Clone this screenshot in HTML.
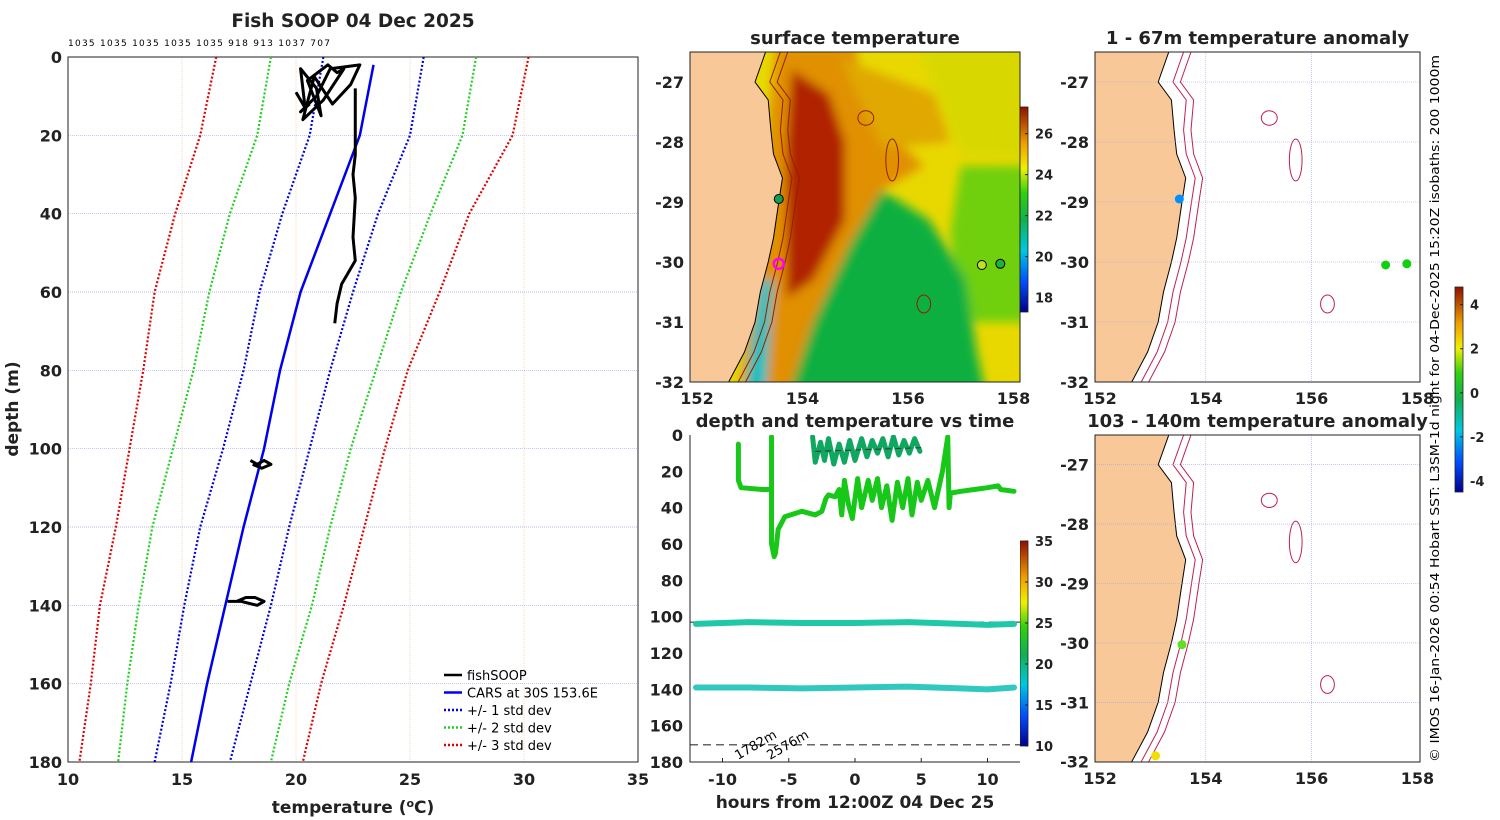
<!DOCTYPE html>
<html><head><meta charset="utf-8"><style>
html,body{margin:0;padding:0;background:#fff}
svg{display:block;font-family:"DejaVu Sans","Liberation Sans",sans-serif}
.t{font-weight:bold;fill:#222}
</style></head><body>
<svg id="fig" width="1500" height="820" viewBox="0 0 1500 820" xmlns="http://www.w3.org/2000/svg">
<defs>
<filter id="bl" x="-5%" y="-5%" width="110%" height="110%"><feGaussianBlur stdDeviation="5"/></filter>
<clipPath id="cm1"><rect x="690" y="52" width="330" height="330"/></clipPath>
<clipPath id="cm2"><rect x="1095" y="52" width="325" height="330"/></clipPath>
<clipPath id="cm3"><rect x="1095" y="435" width="325" height="327"/></clipPath>
<clipPath id="ct"><rect x="690" y="435" width="330" height="327"/></clipPath>
<linearGradient id="jet" x1="0" y1="1" x2="0" y2="0">
<stop offset="0" stop-color="#00008f"/><stop offset="0.15" stop-color="#0050ff"/><stop offset="0.3" stop-color="#00c8e0"/><stop offset="0.45" stop-color="#10b050"/><stop offset="0.58" stop-color="#30d010"/><stop offset="0.7" stop-color="#f0f000"/><stop offset="0.82" stop-color="#f0a000"/><stop offset="1" stop-color="#901000"/></linearGradient>
</defs>
<g id="g1"></g>
</svg>
<script>
// ---- profile panel data ----
const depths=[0,20,40,60,80,100,120,140,160,180];
const cars=[23.4,22.8,21.5,20.2,19.3,18.6,17.7,16.9,16.1,15.4];
const sd1lo=[21.2,20.6,19.4,18.4,17.7,16.8,15.8,15.1,14.5,13.8];
const sd1hi=[25.6,25.0,23.6,22.5,21.5,20.6,19.7,18.9,18.0,17.1];
const sd2lo=[18.9,18.3,17.1,16.2,15.5,14.6,13.7,13.1,12.6,12.2];
const sd2hi=[27.9,27.3,25.9,24.6,23.5,22.4,21.5,20.7,19.7,18.9];
const sd3lo=[16.5,15.8,14.7,13.8,13.3,12.7,12.1,11.4,11.0,10.5];
const sd3hi=[30.2,29.5,27.6,26.3,24.9,23.9,23.0,22.1,21.1,20.3];
const xTicks=[10,15,20,25,30,35];
const yTicks=[0,20,40,60,80,100,120,140,160,180];
const fishT=[[20.0,20.4,20.2,20.9,21.1,20.5,21.4,21.8,22.1,21.2,20.3,20.8,21.6,22.4,22.8,21.5,20.9,20.2,20.6],[22.6,22.6,22.6,22.5,22.6,22.5,22.6,22.3,22.0,21.8,21.7],[18.0,18.3,18.6,18.9,18.5,18.1],[17.0,17.4,17.8,18.2,18.6,18.3,17.6,17.1]];
const fishD=[[9,13,3,8,15,6,2,4,3,11,16,5,12,7,2,3,10,14,12],[8,15,25,30,36,46,52,55,58,63,68],[103,104,103,104,105,104],[139,139,138,138,139,140,139,139]];
const headerText="1035 1035 1035 1035 1035 918 913 1037 707";
// ---- time panel data ----
const hrsTicks=[-10,-5,0,5,10];
const tdTicks=[0,20,40,60,80,100,120,140,160,180];
const mainH=[-8.8,-8.8,-8.6,-7,-6.3,-6.3,-6.3,-6.1,-6,-5.8,-5.3,-4,-3,-2.5,-2.2,-2,-1.5,-1.2,-1,-0.8,-0.5,-0.2,0.2,0.5,1,1.3,1.7,2,2.4,2.8,3.2,3.6,4,4.3,4.7,5,5.5,6,6.3,6.6,7,7.1,7.2,8,9,10,10.8,11,12];
const mainD=[5,25,29,30,30,1,60,67,65,52,45,42,44,42,35,33,34,30,44,25,38,46,24,40,25,36,24,40,28,47,26,40,24,44,26,36,25,40,30,20,1,40,32,31,30,29,28,30,31];
const topH=[-3.2,-3,-2.6,-2.3,-2,-1.6,-1.2,-0.8,-0.4,0,0.5,0.9,1.3,1.7,2.1,2.5,2.9,3.3,3.7,4.1,4.5,4.9];
const topD=[1,15,4,14,2,16,5,15,3,14,2,12,3,10,2,12,1,11,3,10,2,9];
const l100H=[-12,-8,-4,0,4,8,10,12];
const l100D=[104,103,103.5,103.5,103,104,104.5,104];
const l140H=[-12,-8,-4,0,4,8,10,12];
const l140D=[139,139,139.5,139,138.5,139.5,140,139];
// ---- map coast ----
const coastLon=[153.3,153.1,153.35,153.4,153.45,153.62,153.55,153.45,153.35,153.2,153.1,152.9,152.6];
const coastLat=[-26.5,-27.0,-27.3,-27.8,-28.2,-28.6,-29,-29.6,-30.0,-30.5,-31.0,-31.5,-32];

const NS="http://www.w3.org/2000/svg";
const root=document.getElementById('g1');
function mk(tag,attrs,parent,txt){const e=document.createElementNS(NS,tag);for(const k in attrs)e.setAttribute(k,attrs[k]);if(txt!==undefined)e.textContent=txt;(parent||root).appendChild(e);return e;}

// ===== Profile panel =====
const PX0=68,PX1=638,PY0=57,PY1=762;
const px=t=>PX0+(t-10)/25*(PX1-PX0);
const py=d=>PY0+d/180*(PY1-PY0);
const pg=mk('g',{});

mk('rect',{x:PX0,y:PY0,width:PX1-PX0,height:PY1-PY0,fill:'#fff'},pg);
xTicks.forEach(t=>{if(t>10&&t<35)mk('line',{x1:px(t),x2:px(t),y1:PY0,y2:PY1,stroke:'#f0c8a0','stroke-width':0.7,'stroke-dasharray':'1 1'},pg);
 const l=mk('text',{x:px(t),y:785,'text-anchor':'middle','font-size':16,class:'t'},pg,String(t));
 });
yTicks.forEach(d=>{if(d>0&&d<180)mk('line',{x1:PX0,x2:PX1,y1:py(d),y2:py(d),stroke:'#a0a8e0','stroke-width':0.7,'stroke-dasharray':'1 1'},pg);
 const l=mk('text',{x:PX0-6,y:py(d)+6,'text-anchor':'end','font-size':16,class:'t'},pg,String(d));
 });
mk('rect',{x:PX0,y:PY0,width:PX1-PX0,height:PY1-PY0,fill:'none',stroke:'#222','stroke-width':1},pg);
function pline(ts,ds,col,dash,w,name){const pts=ts.map((t,i)=>px(t)+','+py(ds[i])).join(' ');
 const e=mk('polyline',{points:pts,fill:'none',stroke:col,'stroke-width':w,'stroke-dasharray':dash||'none','stroke-linejoin':'round'},pg);
 }
pline(sd3lo,depths,'#e00000','2 2',2.2,'std3-low-line');pline(sd3hi,depths,'#e00000','2 2',2.2,'std3-high-line');
pline(sd2lo,depths,'#20d020','2 2',2.2,'std2-low-line');pline(sd2hi,depths,'#20d020','2 2',2.2,'std2-high-line');
pline(sd1lo,depths,'#0000e0','2 2',2.2,'std1-low-line');pline(sd1hi,depths,'#0000e0','2 2',2.2,'std1-high-line');
pline(cars,depths.map((d,i)=>i==0?2:d),'#0000ee',null,2.5,'cars-line');
fishT.forEach((ts,i)=>pline(ts,fishD[i],'#000',null,3,'fishsoop-trace'));
mk('text',{x:353,y:27,'text-anchor':'middle','font-size':18.5,class:'t'},pg,'Fish SOOP 04 Dec 2025');
const ht=mk('text',{x:68,y:46,'font-size':9,fill:'#000',textLength:262,lengthAdjust:'spacing'},pg,headerText);
const xt=mk('text',{x:353,y:813,'text-anchor':'middle','font-size':17,class:'t'},pg);
xt.innerHTML='temperature (<tspan dy="-6" font-size="11">o</tspan><tspan dy="6">C)</tspan>';

const yt=mk('text',{x:0,y:0,'text-anchor':'middle','font-size':17,class:'t',transform:'translate(18,409) rotate(-90)'},pg,'depth (m)');

const lg=mk('g',{},pg);
[['fishSOOP','#000',null],['CARS at 30S 153.6E','#0000ee',null],['+/- 1 std dev','#0000e0','2 2'],['+/- 2 std dev','#20d020','2 2'],['+/- 3 std dev','#e00000','2 2']].forEach((r,i)=>{
 const y=675+i*17.5;mk('line',{x1:444,x2:462,y1:y,y2:y,stroke:r[1],'stroke-width':2.5,'stroke-dasharray':r[2]||'none'},lg);
 const e=mk('text',{x:467,y:y+5,'font-size':13,fill:'#000'},lg,r[0]);});

// ===== Maps =====
function mapAxes(x0,y0,w,h,lon0,lonPer,latTop,latPer,clip,title,name,sst){
 const g=mk('g',{});
 const X=l=>lon0+(l-152)*lonPer, Y=l=>y0+(latTop-l)*latPer;
 const inner=mk('g',{'clip-path':'url(#'+clip+')'},g);
 mk('rect',{x:x0,y:y0,width:w,height:h,fill:'#fff'},inner);
 if(sst){
  mk('rect',{x:x0,y:y0,width:w,height:h,fill:'#e8d800'},inner);
  const b=mk('g',{filter:'url(#bl)'},inner);
  const poly=(arr,c)=>mk('polygon',{points:arr.map(p=>X(p[0])+','+Y(p[1])).join(' '),fill:c},b);
  poly([[157,-28.4],[158.5,-28.4],[158.5,-31],[157,-31],[156.8,-29.5]],'#70d010');
  poly([[156,-26],[158.5,-26],[158.5,-28.3],[157,-28.2]],'#d8d800');
  poly([[153.5,-26.4],[155,-26.4],[155.2,-27.5],[156.3,-28.4],[155.5,-28.8],[154.5,-31],[153.8,-32.2],[152.8,-32.2],[153.2,-29]],'#e09000');
  poly([[154.7,-26.6],[156.5,-27.2],[156.8,-28],[155.5,-28.1]],'#e0a800');
  poly([[153.8,-26.8],[154.5,-27.2],[154.8,-28],[154.8,-29.3],[154.2,-30.3],[153.7,-30.6],[153.7,-28]],'#b02000');
  poly([[155.5,-28.8],[156.4,-29.3],[157.1,-30.3],[157.3,-31.5],[157.5,-32.3],[153.7,-32.3],[154.2,-31],[154.9,-29.7]],'#10b040');
  poly([[153.2,-30.3],[153.45,-30.3],[153.3,-32.2],[152.9,-32.2]],'#00c0c0');
 }
 const land=[[150,-26]].concat(coastLon.map((l,i)=>[l,coastLat[i]])).concat([[150,-33]]);
 mk('polygon',{points:land.map(p=>X(p[0])+','+Y(p[1])).join(' '),fill:'#f8c898',stroke:'#000','stroke-width':1},inner);
 [0.18,0.32].forEach(o=>mk('polyline',{points:coastLon.map((l,i)=>X(l+o+(i<3?0.1:0))+','+Y(coastLat[i])).join(' '),fill:'none',stroke:sst?'#902000':'#c02050','stroke-width':1},inner));
 [[155.2,-27.6,0.15,0.12],[155.7,-28.3,0.12,0.35],[156.3,-30.7,0.13,0.15]].forEach(s=>mk('ellipse',{cx:X(s[0]),cy:Y(s[1]),rx:s[2]*lonPer,ry:s[3]*latPer,fill:'none',stroke:sst?'#902000':'#c02050','stroke-width':1},inner));
 if(!sst){[154,156].forEach(l=>mk('line',{x1:X(l),x2:X(l),y1:y0,y2:y0+h,stroke:'#a0a8e0','stroke-width':0.6,'stroke-dasharray':'1 1'},inner));
  [-27,-28,-29,-30,-31].forEach(l=>mk('line',{x1:x0,x2:x0+w,y1:Y(l),y2:Y(l),stroke:'#a0a8e0','stroke-width':0.6,'stroke-dasharray':'1 1'},inner));}
 mk('rect',{x:x0,y:y0,width:w,height:h,fill:'none',stroke:'#222','stroke-width':1},g);
 [152,154,156,158].forEach(l=>{mk('text',{x:X(l),y:y0+h+22,'text-anchor':'middle','font-size':16,class:'t'},g,String(l));});
 [-27,-28,-29,-30,-31,-32].forEach(l=>{mk('text',{x:x0-6,y:Y(l)+6,'text-anchor':'end','font-size':16,class:'t'},g,String(l));});
 mk('text',{x:x0+w/2,y:y0-8,'text-anchor':'middle','font-size':18,class:'t'},g,title);
 return {g,X,Y};
}
const m1=mapAxes(690,52,330,330,697,52.75,-26.5,60,'cm1','surface temperature','sst-map',true);
mk('circle',{cx:m1.X(153.55),cy:m1.Y(-30.03),r:5,fill:'none',stroke:'#ff00ff','stroke-width':2.5},m1.g);
[[153.55,-28.95,'#10a050'],[157.4,-30.05,'#c0e020'],[157.75,-30.03,'#20b040']].forEach(p=>mk('circle',{cx:m1.X(p[0]),cy:m1.Y(p[1]),r:4.5,fill:p[2],stroke:'#000','stroke-width':1},m1.g));
const m2=mapAxes(1095,52,325,330,1100,52.9,-26.5,60,'cm2','1 - 67m temperature anomaly','anomaly-map-shallow',false);
[[153.5,-28.95,'#0090ff'],[157.4,-30.05,'#10d010'],[157.8,-30.03,'#10d010']].forEach(p=>mk('circle',{cx:m2.X(p[0]),cy:m2.Y(p[1]),r:4.5,fill:p[2]},m2.g));
const m3=mapAxes(1095,435,325,327,1100,52.9,-26.5,59.4,'cm3','103 - 140m temperature anomaly','anomaly-map-deep',false);
[[153.55,-30.03,'#60e020'],[153.05,-31.9,'#f0e000']].forEach(p=>mk('circle',{cx:m3.X(p[0]),cy:m3.Y(p[1]),r:4.5,fill:p[2]},m3.g));

function cbar(x,y,h,labels,vmin,vmax,name){const g=mk('g',{});
 mk('rect',{x:x,y:y,width:8,height:h,fill:'url(#jet)',stroke:'#222','stroke-width':0.8},g);
 labels.forEach(v=>{const yy=y+h-(v-vmin)/(vmax-vmin)*h;mk('line',{x1:x+8,x2:x+5,y1:yy,y2:yy,stroke:'#222'},g);
 mk('text',{x:x+15,y:yy+5,'font-size':13,class:'t'},g,String(v));});}
cbar(1020,107,205,[26,24,22,20,18],17.3,27.3,'sst-colorbar');
cbar(1020,541,205,[35,30,25,20,15,10],10,35,'temp-colorbar');
cbar(1455,287,205,[4,2,0,-2,-4],-4.5,4.8,'anomaly-colorbar');
const vt=mk('text',{x:0,y:0,'font-size':12,fill:'#000',transform:'translate(1439,762) rotate(-90)',textLength:707,lengthAdjust:'spacingAndGlyphs'},root,'© IMOS 16-Jan-2026 00:54 Hobart SST: L3SM-1d night for 04-Dec-2025 15:20Z isobaths: 200  1000m');


// ===== Time panel =====
const TX0=690,TX1=1020,TY0=435,TY1=762;
const tx=h=>855+h*13.25, ty=d=>TY0+d/180*(TY1-TY0);
const tg=mk('g',{});
mk('rect',{x:TX0,y:TY0,width:TX1-TX0,height:TY1-TY0,fill:'#fff'},tg);
const tc=mk('g',{'clip-path':'url(#ct)'},tg);
function tline(hs,ds,col,w,name){const e=mk('polyline',{points:hs.map((h,i)=>tx(h)+','+ty(ds[i])).join(' '),fill:'none',stroke:col,'stroke-width':w,'stroke-linejoin':'round','stroke-linecap':'round'},tc);}
mk('line',{x1:TX0,x2:TX1,y1:ty(103),y2:ty(103),stroke:'#222','stroke-dasharray':'8 5'},tc);
mk('line',{x1:TX0,x2:TX1,y1:ty(170.5),y2:ty(170.5),stroke:'#666','stroke-width':1.5,'stroke-dasharray':'8 5'},tc);
tline(l100H,l100D,'#20c8a8',6,'trace-100m');
tline(l140H,l140D,'#30c8c0',6,'trace-140m');
tline(mainH,mainD,'#18c818',5,'trace-main');
tline(topH,topD,'#10a860',5,'trace-surface');
mk('line',{x1:tx(-3),x2:tx(5),y1:ty(9),y2:ty(7),stroke:'#333','stroke-dasharray':'6 4'},tc);
mk('text',{x:0,y:0,'font-size':13,fill:'#000',transform:'translate(738,760) rotate(-30)'},tc,'1782m');
mk('text',{x:0,y:0,'font-size':13,fill:'#000',transform:'translate(770,760) rotate(-30)'},tc,'2576m');
mk('polyline',{points:`${TX0},${TY0} ${TX0},${TY1} ${TX1},${TY1}`,fill:'none',stroke:'#222'},tg);
hrsTicks.forEach(h=>{mk('line',{x1:tx(h),x2:tx(h),y1:TY1,y2:TY1-4,stroke:'#222'},tg);mk('text',{x:tx(h),y:785,'text-anchor':'middle','font-size':16,class:'t'},tg,String(h));});
tdTicks.forEach(d=>{mk('text',{x:TX0-7,y:ty(d)+6,'text-anchor':'end','font-size':16,class:'t'},tg,String(d));});
mk('text',{x:855,y:808,'text-anchor':'middle','font-size':17,class:'t'},tg,'hours from 12:00Z 04 Dec 25');
mk('text',{x:855,y:427,'text-anchor':'middle','font-size':18,class:'t'},tg,'depth and temperature vs time');
</script>
</body></html>
